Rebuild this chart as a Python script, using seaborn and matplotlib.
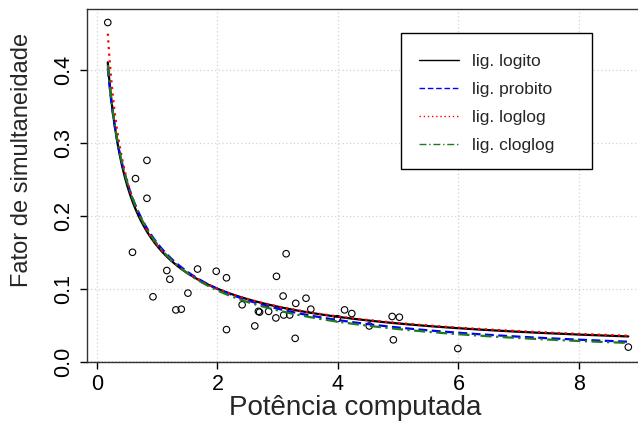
import math
import numpy as np
import pandas as pd
import matplotlib
matplotlib.use("Agg")
import matplotlib.pyplot as plt
from matplotlib.patches import Rectangle
import seaborn as sns

# Observed data: computed power vs. simultaneity factor
potencia = [0.18, 0.59, 0.64, 0.83, 0.83, 0.93, 1.16, 1.21, 1.31, 1.40,
            1.51, 1.67, 1.98, 2.15, 2.15, 2.41, 2.62, 2.68, 2.70, 2.85,
            2.97, 2.98, 3.09, 3.10, 3.14, 3.20, 3.29, 3.30, 3.47, 3.55,
            3.99, 4.11, 4.23, 4.52, 4.90, 4.92, 5.02, 5.99, 8.82]
fator = [0.465, 0.150, 0.251, 0.276, 0.224, 0.089, 0.125, 0.113, 0.071, 0.072,
         0.094, 0.127, 0.124, 0.115, 0.044, 0.078, 0.049, 0.069, 0.068, 0.069,
         0.060, 0.117, 0.090, 0.064, 0.148, 0.064, 0.032, 0.080, 0.087, 0.072,
         0.059, 0.071, 0.066, 0.049, 0.062, 0.030, 0.061, 0.018, 0.020]

# Fitted binomial models, linear predictor  b0 + b1*log(x)
rotulos = ["lig. logito", "lig. probito", "lig. loglog", "lig. cloglog"]
forma = ["logistic", "normal", "extreme", "normal"]
b0 = [-1.669, -0.984, -1.750, -0.990]
b1 = [-0.762, -0.430, -0.720, -0.440]
cores = ["black", "#0000FF", "#FF0000", "#1f7a1f"]
estilos = ["-", (0, (4, 2)), (0, (1, 2)), (0, (5, 2, 1, 2))]

_erf = np.vectorize(math.erf)
inversa = {
    "logistic": lambda e: 1.0 / (1.0 + np.exp(-e)),
    "normal": lambda e: 0.5 * (1.0 + _erf(e / math.sqrt(2.0))),
    "extreme": lambda e: 1.0 - np.exp(-np.exp(e)),
}

sns.set_style("white")
plt.rcParams["font.family"] = ["Liberation Sans", "DejaVu Sans"]

fig = plt.figure(figsize=(6.38, 4.29), dpi=100)
ax = fig.add_axes([87 / 638, 67.3 / 429, 561.5 / 638, 352.7 / 429])

ax.set_xlim(-0.165, 9.155)
ax.set_ylim(0.0, 0.4835)

# background grid
for gx in [0, 2, 4, 6, 8]:
    ax.axvline(gx, color="#d3d3d3", lw=0.9, ls=(0, (1, 2)), zorder=0)
for gy in [0.1, 0.2, 0.3, 0.4]:
    ax.axhline(gy, color="#d3d3d3", lw=0.9, ls=(0, (1, 2)), zorder=0)
ax.axhline(0.0, color="black", lw=1.0, ls=(0, (1, 1.5)), zorder=1)

sns.scatterplot(x=potencia, y=fator, ax=ax, marker="o", s=22,
                facecolor="none", edgecolor="black", linewidth=0.8, zorder=3)

xs = np.linspace(min(potencia), max(potencia), 400)
curvas = []
for rot, f, a, b in zip(rotulos, forma, b0, b1):
    curvas.append(pd.DataFrame({"x": xs, "y": inversa[f](a + b * np.log(xs)), "lig": rot}))
df_curvas = pd.concat(curvas, ignore_index=True)

for rot, cor, est in zip(rotulos, cores, estilos):
    sub = df_curvas[df_curvas["lig"] == rot]
    sns.lineplot(data=sub, x="x", y="y", ax=ax, color=cor, linestyle=est,
                 linewidth=1.6, zorder=4, legend=False)

ax.set_xticks([0, 2, 4, 6, 8])
ax.set_yticks([0.0, 0.1, 0.2, 0.3, 0.4])
ax.set_xticklabels(["0", "2", "4", "6", "8"])
ax.set_yticklabels(["0.0", "0.1", "0.2", "0.3", "0.4"])
ax.tick_params(axis="both", which="major", length=5, width=1, direction="out",
               labelsize=15.5, pad=4, left=True, bottom=True, colors="black")
for lbl in ax.get_yticklabels():
    lbl.set_rotation(90)
    lbl.set_va("center")

ax.set_xlabel("Potência computada", fontsize=20)
ax.set_ylabel("Fator de simultaneidade", fontsize=17)
ax.xaxis.set_label_coords(0.477, -0.095, transform=ax.transAxes)
ax.xaxis.label.set_va("top")
ax.yaxis.set_label_coords(-0.097, 0.572, transform=ax.transAxes)
ax.yaxis.label.set_va("bottom")

for side in ["left", "top", "right", "bottom"]:
    ax.spines[side].set_visible(True)
    ax.spines[side].set_color("#333333")
    ax.spines[side].set_linewidth(1.0)

# legend
handles = [plt.Line2D([], [], color=c, linestyle=e, linewidth=1.0)
           for c, e in zip(cores, estilos)]
ax.add_patch(Rectangle((0.559, 0.546), 0.340, 0.385, transform=ax.transAxes,
                       facecolor="white", edgecolor="black", linewidth=1.0, zorder=5))
leg = ax.legend(handles, rotulos, loc="upper left",
                bbox_to_anchor=((419 - 87) / 561.5, (361.7 - 54) / 352.7),
                frameon=False, fontsize=12.5, handlelength=2.3, handletextpad=0.75,
                labelspacing=0.74, borderpad=0.0, borderaxespad=0.0)
leg.set_zorder(6)

fig.savefig("out.png", dpi=100)
